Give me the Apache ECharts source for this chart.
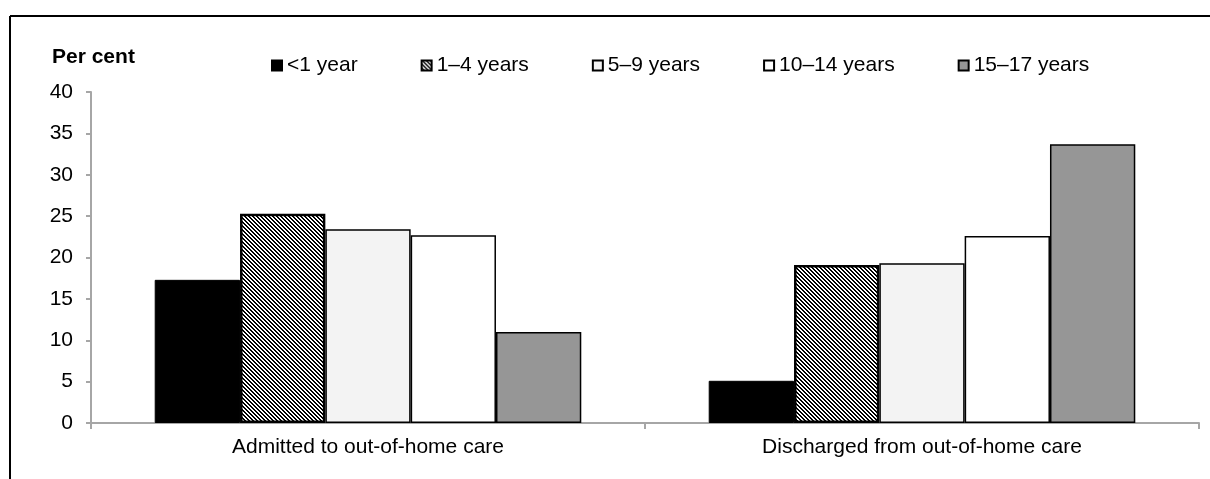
<!DOCTYPE html>
<html>
<head>
<meta charset="utf-8">
<script src="https://cdn.jsdelivr.net/npm/echarts@6/dist/echarts.min.js"></script>
<style>html,body{margin:0;padding:0;background:#fff;}#c{width:1210px;height:479px;}</style>
</head>
<body>
<div id="c"></div>
<script>
var categories = ['Admitted to out-of-home care', 'Discharged from out-of-home care'];
var seriesNames = ['<1 year', '1\u20134 years', '5\u20139 years', '10\u201314 years', '15\u201317 years'];
var lt1 = [17.3, 5.1];
var y1to4 = [25.3, 19.1];
var y5to9 = [23.4, 19.3];
var y10to14 = [22.7, 22.6];
var y15to17 = [11.0, 33.7];
var yTicks = [0, 5, 10, 15, 20, 25, 30, 35, 40];

var pc = document.createElement('canvas');
pc.width = 4; pc.height = 4;
var ctx = pc.getContext('2d');
ctx.fillStyle = '#ffffff'; ctx.fillRect(0, 0, 4, 4);
ctx.fillStyle = '#000000';
for (var i = 0; i < 4; i++) { ctx.fillRect(i, i, 1, 1); ctx.fillRect((i + 1) % 4, i, 1, 1); }
var hatch = { image: pc, repeat: 'repeat' };

var styles = [
  { color: '#000000', borderColor: '#000000', borderWidth: 1 },
  { color: hatch, borderColor: '#000000', borderWidth: 2.5 },
  { color: '#f3f3f3', borderColor: '#000000', borderWidth: 1.5 },
  { color: '#ffffff', borderColor: '#000000', borderWidth: 1.5 },
  { color: '#969696', borderColor: '#000000', borderWidth: 1.5 }
];
var dataArr = [lt1, y1to4, y5to9, y10to14, y15to17];

var chart = echarts.init(document.getElementById('c'), null, { renderer: 'canvas' });
var series = seriesNames.map(function (n, k) {
  return {
    name: n, type: 'bar', data: dataArr[k],
    barGap: '0%', barCategoryGap: '23%',
    itemStyle: styles[k],
    emphasis: { disabled: true },
    animation: false
  };
});

chart.setOption({
  animation: false,
  textStyle: { fontFamily: 'Liberation Sans, Arial, sans-serif' },
  grid: { left: 91, right: 11, top: 92, bottom: 56, containLabel: false },
  legend: {
    data: seriesNames,
    icon: 'rect',
    top: 50, left: 266,
    itemWidth: 10, itemHeight: 10, itemGap: 63,
    textStyle: { fontSize: 21, color: '#000', padding: [0, 0, 0, 0] },
    selectedMode: false
  },
  xAxis: {
    type: 'category', data: categories,
    axisLine: { lineStyle: { color: '#a6a6a6', width: 2 } },
    axisTick: { show: true, length: 6, lineStyle: { color: '#a6a6a6', width: 2 } },
    axisLabel: { fontSize: 21, color: '#000', margin: 14 }
  },
  yAxis: {
    type: 'value', min: 0, max: 40, interval: 5,
    axisLine: { show: true, lineStyle: { color: '#a6a6a6', width: 2 } },
    axisTick: { show: true, length: 5, lineStyle: { color: '#a6a6a6', width: 2 } },
    splitLine: { show: false },
    axisLabel: { fontSize: 21, color: '#000', margin: 18 }
  },
  graphic: [
    { type: 'line', shape: { x1: 10, y1: 16, x2: 1210, y2: 16 }, style: { stroke: '#000', lineWidth: 2 } },
    { type: 'line', shape: { x1: 10, y1: 16, x2: 10, y2: 479 }, style: { stroke: '#000', lineWidth: 2 } },
    { type: 'text', left: 52, top: 47, style: { text: 'Per cent', font: 'bold 21px "Liberation Sans", Arial, sans-serif', fill: '#000' } }
  ],
  series: series
});
</script>
</body>
</html>
